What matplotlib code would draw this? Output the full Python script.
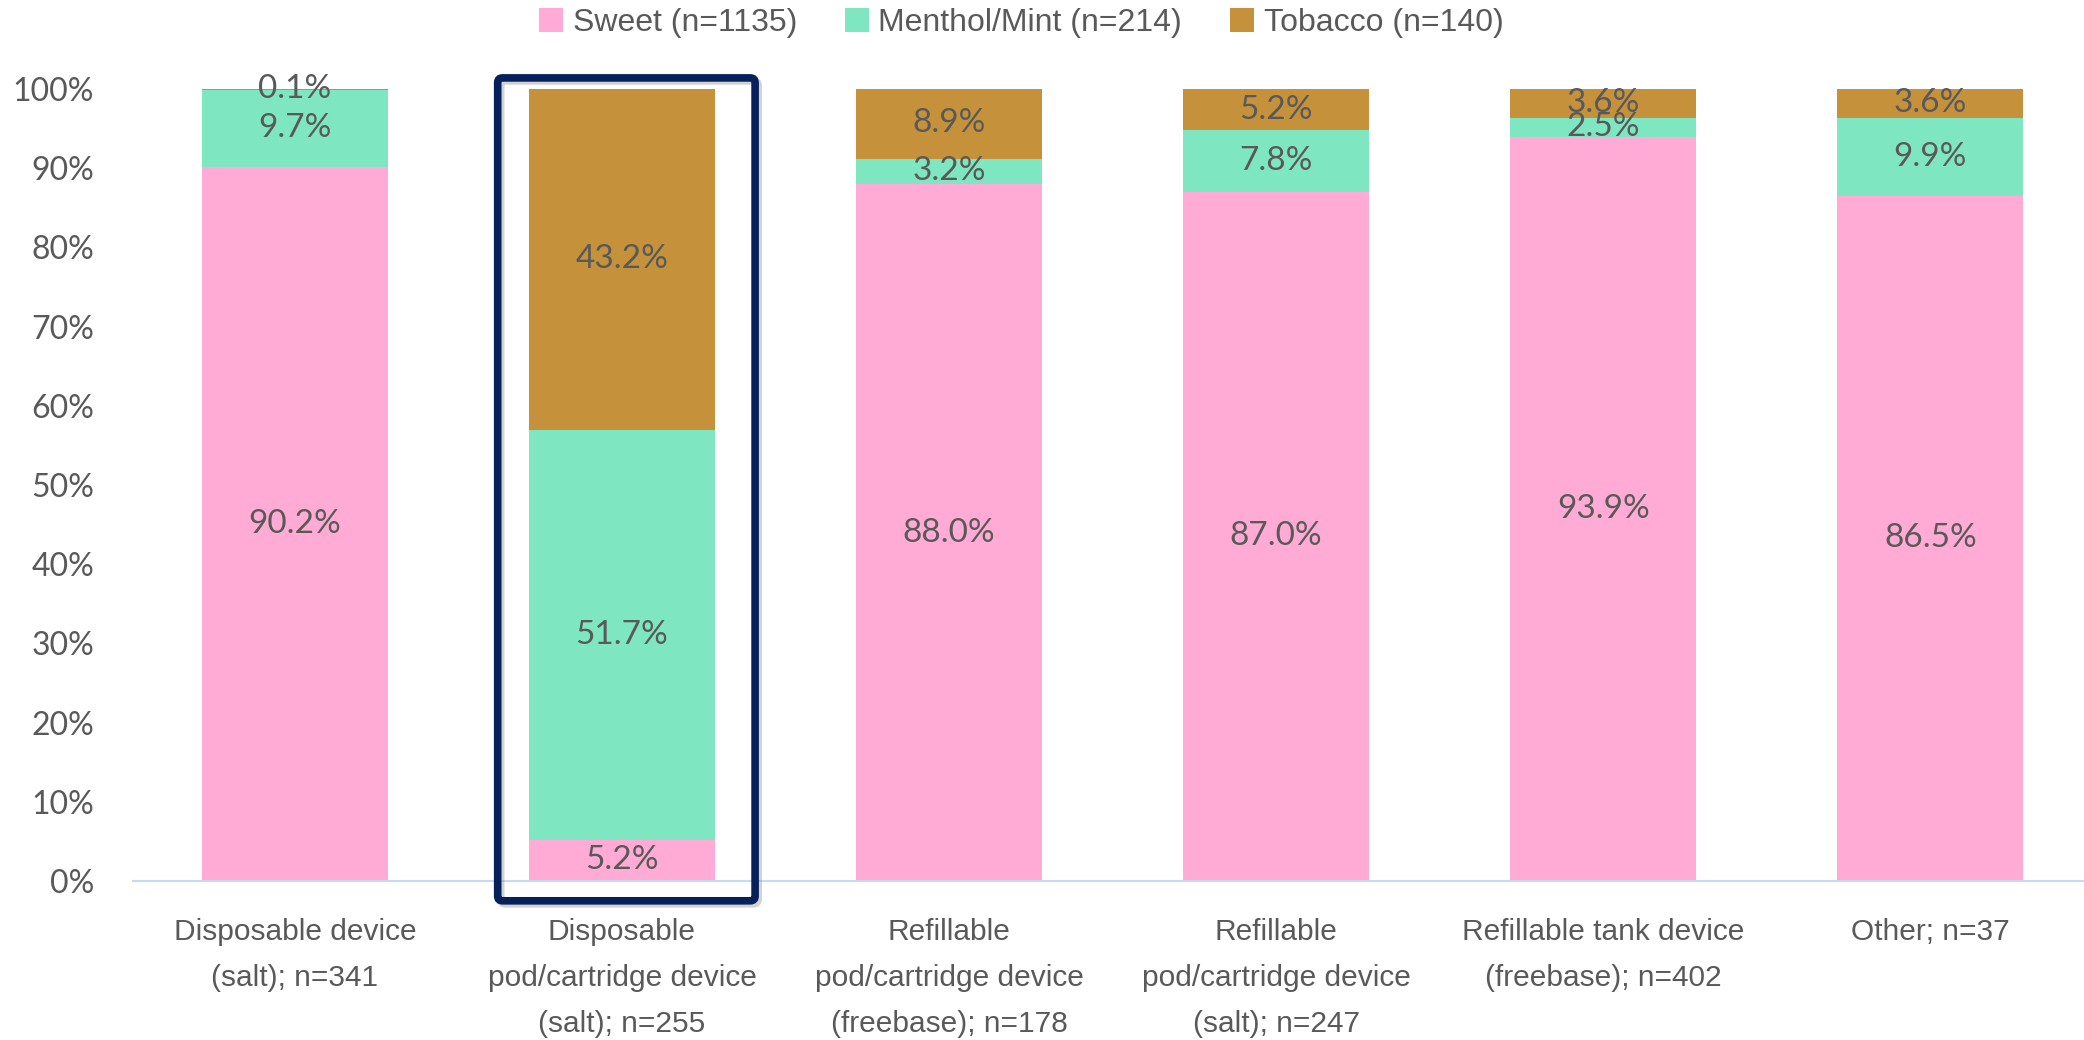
import matplotlib
matplotlib.use("Agg")
import matplotlib.pyplot as plt
import matplotlib.transforms as mtransforms
from matplotlib.patches import FancyBboxPatch
import numpy as np

categories = [
    "Disposable device\n(salt); n=341",
    "Disposable\npod/cartridge device\n(salt); n=255",
    "Refillable\npod/cartridge device\n(freebase); n=178",
    "Refillable\npod/cartridge device\n(salt); n=247",
    "Refillable tank device\n(freebase); n=402",
    "Other; n=37",
]
sweet = [90.2, 5.2, 88.0, 87.0, 93.9, 86.5]
menthol = [9.7, 51.7, 3.2, 7.8, 2.5, 9.9]
tobacco = [0.1, 43.2, 8.9, 5.2, 3.6, 3.6]

series_names = ["Sweet (n=1135)", "Menthol/Mint (n=214)", "Tobacco (n=140)"]
colors = ["#FFABD5", "#7EE7C2", "#C5923B"]
text_color = "#595959"

label_font = ["Lato", "DejaVu Sans"]
narrow_font = ["Liberation Sans", "DejaVu Sans"]

fig = plt.figure(figsize=(20.84, 10.4), dpi=100)
ax = fig.add_axes([133 / 2084, 1 - 881 / 1040, 1 - 133 / 2084, (881 - 89) / 1040])

x = np.arange(len(categories))
width = 0.57
bottom = np.zeros(len(categories))
for vals, name, col in zip([sweet, menthol, tobacco], series_names, colors):
    vals = np.array(vals)
    ax.bar(x, vals, width, bottom=bottom, color=col, label=name, zorder=2)
    for xi, b, v in zip(x, bottom, vals):
        ax.text(xi, b + v / 2, f"{v:.1f}%", ha="center", va="center",
                fontsize=24, color=text_color, family=label_font, zorder=4)
    bottom += vals

ax.set_xlim(-0.495, 5.47)
ax.set_ylim(0, 100)
ax.set_yticks(np.arange(0, 101, 10))
ax.set_yticklabels([f"{v}%" for v in range(0, 101, 10)], fontsize=23,
                   color=text_color, family=label_font)
ax.set_xticks(x)
ax.set_xticklabels(categories, fontsize=21.5, color=text_color,
                   family=narrow_font, linespacing=1.8)
ax.tick_params(axis="both", length=0)
ax.tick_params(axis="y", pad=28)
ax.tick_params(axis="x", pad=27)
for side in ["top", "right", "left"]:
    ax.spines[side].set_visible(False)
ax.spines["bottom"].set_color("#C9D9F5")
ax.spines["bottom"].set_linewidth(1.5)

# highlight box around the second bar
box_kw = dict(boxstyle="round,pad=0,rounding_size=0.015", mutation_aspect=40,
              fill=False, clip_on=False)
shadow = FancyBboxPatch((1 - 0.38, -2.5), 0.787, 103.9, ec="#7F7F7F", lw=5.5,
                        alpha=0.35, zorder=4,
                        transform=mtransforms.offset_copy(ax.transData, fig=fig, x=3, y=-3, units="dots"),
                        **box_kw)
ax.add_patch(shadow)
box = FancyBboxPatch((1 - 0.38, -2.5), 0.787, 103.9, ec="#06215A", lw=5.5,
                     zorder=5, **box_kw)
ax.add_patch(box)

leg = fig.legend(loc="upper center", bbox_to_anchor=(0.49, 1.02), ncol=3,
                 frameon=False, prop={"family": narrow_font, "size": 23},
                 handlelength=0.75, handleheight=0.75, handletextpad=0.3,
                 columnspacing=1.5)
for t in leg.get_texts():
    t.set_color(text_color)

fig.savefig("out.png", dpi=100)
